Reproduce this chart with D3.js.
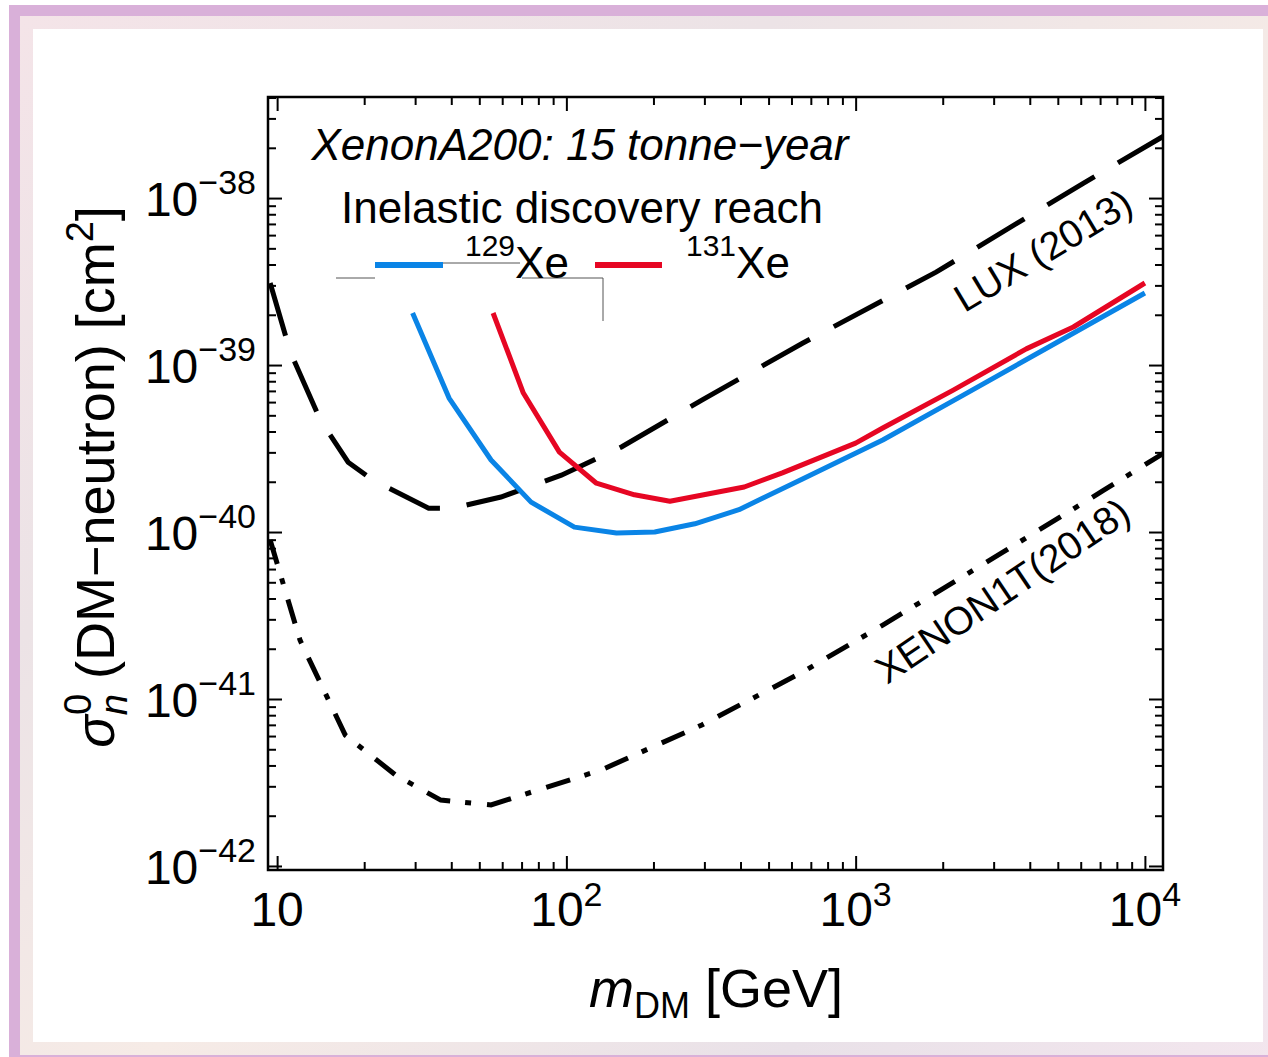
<!DOCTYPE html>
<html>
<head>
<meta charset="utf-8">
<script src="https://cdn.jsdelivr.net/npm/d3@7"></script>
<style>
  body { margin: 0; background: #fff; }
  svg { display: block; font-family: "Liberation Sans", Arial, Helvetica, sans-serif; }
</style>
</head>
<body>
<div id="chart"></div>
<script>
const massLux  = [9.46, 11.1, 14.1, 17.6, 21.4, 33.4, 40.5, 59.4, 96.1, 155, 294, 655, 1897, 6140, 12100];
const sigmaLux = [3.1e-39, 1.2e-39, 4.69e-40, 2.62e-40, 2.05e-40, 1.39e-40, 1.39e-40, 1.62e-40, 2.19e-40, 3.23e-40, 6.17e-40, 1.35e-39, 3.6e-39, 1.23e-38, 2.45e-38];

const massX1T  = [9.46, 12.0, 17.2, 25.7, 36.8, 54.9, 132, 294, 655, 1241, 3240, 7210, 12100];
const sigmaX1T = [8.95e-41, 2.25e-41, 6.08e-42, 3.5e-42, 2.48e-42, 2.32e-42, 3.76e-42, 6.99e-42, 1.45e-41, 2.77e-41, 7.6e-41, 1.78e-40, 3.1e-40];

const mass129  = [29.4, 39.3, 54.9, 75.5, 106.6, 149, 202, 278, 395, 655, 1241, 2355, 4570, 10000];
const sigma129 = [2.05e-39, 6.34e-40, 2.7e-40, 1.51e-40, 1.07e-40, 9.86e-41, 1.0e-40, 1.12e-40, 1.36e-40, 2.08e-40, 3.56e-40, 6.6e-40, 1.26e-39, 2.7e-39];

const mass131  = [55.8, 71, 94.6, 127, 172, 228, 412, 558, 1000, 1241, 2175, 3890, 5660, 10000];
const sigma131 = [2.05e-39, 6.8e-40, 3.01e-40, 1.96e-40, 1.67e-40, 1.53e-40, 1.86e-40, 2.26e-40, 3.41e-40, 4.2e-40, 7.08e-40, 1.25e-39, 1.69e-39, 3.1e-39];

const xTicks = [10, 100, 1000, 10000];
const xTickLabels = [["10", ""], ["10", "2"], ["10", "3"], ["10", "4"]];
const yTicks = [1e-38, 1e-39, 1e-40, 1e-41, 1e-42];
const yTickLabels = [["10", "\u221238"], ["10", "\u221239"], ["10", "\u221240"], ["10", "\u221241"], ["10", "\u221242"]];

const width = 1268, height = 1057;
const pLeft = 268, pRight = 1163, pTop = 97, pBottom = 870;

const svg = d3.select("#chart").append("svg")
  .attr("width", width).attr("height", height);

// poster-like frame around the figure
const defs = svg.append("defs");
const grad = defs.append("linearGradient").attr("id", "tex")
  .attr("x1", "0").attr("y1", "0").attr("x2", "1").attr("y2", "1");
[["0", "#f4e4e8"], ["0.3", "#ece3e6"], ["0.55", "#f6ebe6"], ["0.8", "#e9e1e8"], ["1", "#f3e6ee"]]
  .forEach(s => grad.append("stop").attr("offset", s[0]).attr("stop-color", s[1]));

svg.append("rect").attr("x", 9).attr("y", 5).attr("width", width).attr("height", 1052).attr("fill", "#d9b0d9");
svg.append("rect").attr("x", 20).attr("y", 16).attr("width", width).attr("height", 1039).attr("fill", "url(#tex)");
svg.append("rect").attr("x", 33).attr("y", 29).attr("width", 1230).attr("height", 1013).attr("fill", "#fff");

defs.append("clipPath").attr("id", "plot")
  .append("rect").attr("x", pLeft).attr("y", pTop).attr("width", pRight - pLeft).attr("height", pBottom - pTop);

const x = d3.scaleLog().domain([9.3, 11550]).range([pLeft, pRight]);
const y = d3.scaleLog().domain([9.46e-43, 4.03e-38]).range([pBottom, pTop]);

function minorValues(lo, hi) {
  const out = [];
  for (let e = Math.floor(Math.log10(lo)); e <= Math.ceil(Math.log10(hi)); e++) {
    for (let k = 2; k <= 9; k++) {
      const v = k * Math.pow(10, e);
      if (v > lo && v < hi) out.push(v);
    }
  }
  return out;
}
const xMinor = minorValues(9.3, 11550);
const yMinor = minorValues(9.46e-43, 4.03e-38);

function drawAxis(axis, tx, ty) {
  svg.append("g").attr("transform", `translate(${tx},${ty})`)
    .call(axis)
    .call(g => g.select(".domain").remove())
    .call(g => g.selectAll("line").attr("stroke", "#000").attr("stroke-width", 2));
}
[[xTicks, 14], [xMinor, 8]].forEach(([vals, len]) => {
  drawAxis(d3.axisBottom(x).tickValues(vals).tickSize(-len).tickFormat(""), 0, pBottom);
  drawAxis(d3.axisTop(x).tickValues(vals).tickSize(-len).tickFormat(""), 0, pTop);
});
[[yTicks, 14], [yMinor, 8]].forEach(([vals, len]) => {
  drawAxis(d3.axisLeft(y).tickValues(vals).tickSize(-len).tickFormat(""), pLeft, 0);
  drawAxis(d3.axisRight(y).tickValues(vals).tickSize(-len).tickFormat(""), pRight, 0);
});

// tick labels with superscripts
xTicks.forEach((v, i) => {
  const t = svg.append("text").attr("x", x(v)).attr("y", 926)
    .attr("text-anchor", "middle").attr("font-size", 48);
  t.append("tspan").text(xTickLabels[i][0]);
  if (xTickLabels[i][1]) t.append("tspan").attr("font-size", 34).attr("dy", -20).text(xTickLabels[i][1]);
});
yTicks.forEach((v, i) => {
  const t = svg.append("text").attr("x", 256).attr("y", y(v) + 18)
    .attr("text-anchor", "end").attr("font-size", 48);
  t.append("tspan").text(yTickLabels[i][0]);
  t.append("tspan").attr("font-size", 34).attr("dy", -22).text(yTickLabels[i][1]);
});

// curves
const line = d3.line().x(d => x(d[0])).y(d => y(d[1]));
const curves = svg.append("g").attr("clip-path", "url(#plot)").attr("fill", "none");

curves.append("path").datum(d3.zip(massLux, sigmaLux)).attr("d", line)
  .attr("stroke", "#000").attr("stroke-width", 5).attr("stroke-dasharray", "55,27");
curves.append("path").datum(d3.zip(massX1T, sigmaX1T)).attr("d", line)
  .attr("stroke", "#000").attr("stroke-width", 5).attr("stroke-dasharray", "25,15,6,16");
curves.append("path").datum(d3.zip(mass129, sigma129)).attr("d", line)
  .attr("stroke", "#0a84e6").attr("stroke-width", 5).attr("stroke-linejoin", "round");
curves.append("path").datum(d3.zip(mass131, sigma131)).attr("d", line)
  .attr("stroke", "#e60623").attr("stroke-width", 5).attr("stroke-linejoin", "round");

// frame
svg.append("rect").attr("x", pLeft).attr("y", pTop).attr("width", pRight - pLeft).attr("height", pBottom - pTop)
  .attr("fill", "none").attr("stroke", "#000").attr("stroke-width", 2.5);

// curve labels
svg.append("text").attr("transform", "translate(1050,262) rotate(-31)")
  .attr("text-anchor", "middle").attr("font-size", 39).text("LUX (2013)");
svg.append("text").attr("transform", "translate(1010,602) rotate(-34)")
  .attr("text-anchor", "middle").attr("font-size", 39).text("XENON1T(2018)");

// title + legend
svg.append("text").attr("x", 580).attr("y", 160).attr("text-anchor", "middle")
  .attr("font-size", 44).attr("font-style", "italic").text("XenonA200: 15 tonne\u2212year");
svg.append("text").attr("x", 582).attr("y", 223).attr("text-anchor", "middle")
  .attr("font-size", 44).text("Inelastic discovery reach");

const stray = svg.append("g").attr("stroke", "#555").attr("stroke-width", 1).attr("fill", "none");
stray.append("path").attr("d", "M336,278H375");
stray.append("path").attr("d", "M443,263H520");
stray.append("path").attr("d", "M522,278H603V321");

svg.append("line").attr("x1", 375).attr("x2", 443).attr("y1", 265).attr("y2", 265)
  .attr("stroke", "#0a84e6").attr("stroke-width", 6);
svg.append("line").attr("x1", 595).attr("x2", 662).attr("y1", 265).attr("y2", 265)
  .attr("stroke", "#e60623").attr("stroke-width", 6);

[[465, "129"], [686, "131"]].forEach(([lx, iso]) => {
  const t = svg.append("text").attr("x", lx).attr("y", 278).attr("font-size", 44);
  t.append("tspan").attr("font-size", 30).attr("dy", -22).text(iso);
  t.append("tspan").attr("dy", 22).text("Xe");
});

// axis titles
const xl = svg.append("text").attr("x", 716).attr("y", 1007).attr("text-anchor", "middle").attr("font-size", 54);
xl.append("tspan").attr("font-style", "italic").text("m");
xl.append("tspan").attr("font-size", 36).attr("dy", 11).text("DM");
xl.append("tspan").attr("dy", -11).text(" [GeV]");

const yl = svg.append("text").attr("transform", "translate(114,477) rotate(-90)")
  .attr("text-anchor", "middle").attr("font-size", 54);
yl.append("tspan").attr("font-style", "italic").text("\u03c3");
yl.append("tspan").attr("font-style", "italic").attr("font-size", 38).attr("dy", 13).text("n");
yl.append("tspan").attr("font-size", 38).attr("dx", -21).attr("dy", -36).text("0");
yl.append("tspan").attr("dy", 23).text(" (DM\u2212neutron) [cm");
yl.append("tspan").attr("font-size", 38).attr("dy", -21).text("2");
yl.append("tspan").attr("dy", 21).text("]");
</script>
</body>
</html>
